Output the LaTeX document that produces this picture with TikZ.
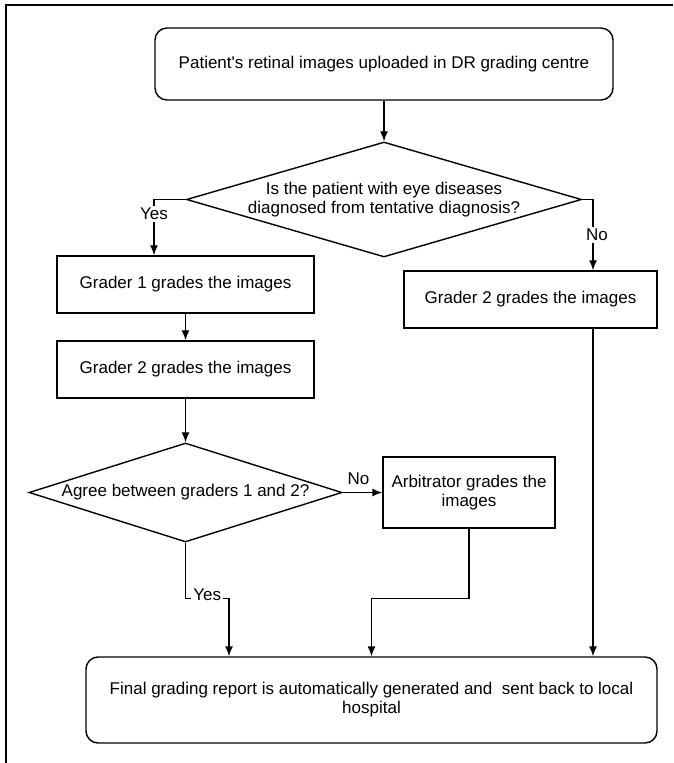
\documentclass[tikz,border=0pt]{standalone}
\usepackage{fontspec}
\setmainfont{Liberation Sans}
\usepackage{tikz}
\usetikzlibrary{calc, shapes.geometric, positioning, arrows.meta}

\tikzset{
    roundbox/.style={draw, rounded corners=6pt, align=center, inner sep=2pt},
    gradebox/.style={draw, rectangle, align=center, inner sep=2pt},
    decision/.style={draw, diamond, align=center, inner sep=0pt},
    lbl/.style={fill=white, inner sep=1pt},
}

\begin{document}
\begin{tikzpicture}[>={Latex[length=5pt,width=4pt]}, x=0.5pt, y=-0.5pt, line width=0.7pt,
    font=\fontsize{8.5}{9.5}\selectfont]
    \useasboundingbox (0,0) rectangle (673,763);
    % Khung
    \draw[line width=1.4pt] (673,5) -- (6,5) -- (6,763);

    % Các nút
    \node[roundbox, minimum width=229pt, minimum height=36pt] (upload) at (384,64) {Patient\textquotesingle s retinal images uploaded in DR grading centre};
    \node[decision, aspect=3.43, minimum width=197.5pt, minimum height=57.5pt] (eyedis) at (384,199.5) {Is the patient with eye diseases\\diagnosed from tentative diagnosis?};
    \node[gradebox, minimum width=128.5pt, minimum height=28.5pt] (gradeA) at (185.5,284.5) {Grader 1 grades the images};
    \node[gradebox, minimum width=128.5pt, minimum height=28.5pt] (gradeB) at (185.5,369.5) {Grader 2 grades the images};
    \node[gradebox, minimum width=126.5pt, minimum height=28.5pt] (gradeC) at (530.5,299.5) {Grader 2 grades the images};
    \node[decision, aspect=3.16, minimum width=156.5pt, minimum height=49.5pt] (agree) at (185.5,492.5) {Agree between graders 1 and 2?};
    \node[gradebox, minimum width=86pt, minimum height=35.5pt] (arbit) at (469,492.5) {Arbitrator grades the\\images};
    \node[roundbox, minimum width=285.5pt, minimum height=43pt] (report) at (371.5,700) {Final grading report is automatically generated and\ \ sent back to local\\hospital};

    % Điểm phụ
    \coordinate (yesA) at (154,199.5);
    \coordinate (noA) at (593,199.5);

    % Mũi tên
    \draw[->] (upload) -- (eyedis);
    \draw[->] (eyedis.west) -| node[lbl, pos=0.63] {Yes} (gradeA.north -| yesA);
    \draw[->] (eyedis.east) -| node[lbl, pos=0.75, xshift=2pt] {No} (gradeC.north -| noA);
    \draw[->] (gradeA) -- (gradeB);
    \draw[->] (gradeB) -- (agree);
    \draw[->] (agree.east) -- node[above, pos=0.4] {No} (arbit.west);
    \draw[->] (agree.south) -- ++(0,56) -| node[lbl, pos=0.25, yshift=2pt] {Yes} ($(report.north)+(-142.5,0)$);
    \draw[->] (arbit.south) -- ++(0,70) -| (report.north);
    \draw[->] (gradeC.south -| noA) -- (report.north -| noA);
\end{tikzpicture}
\end{document}
